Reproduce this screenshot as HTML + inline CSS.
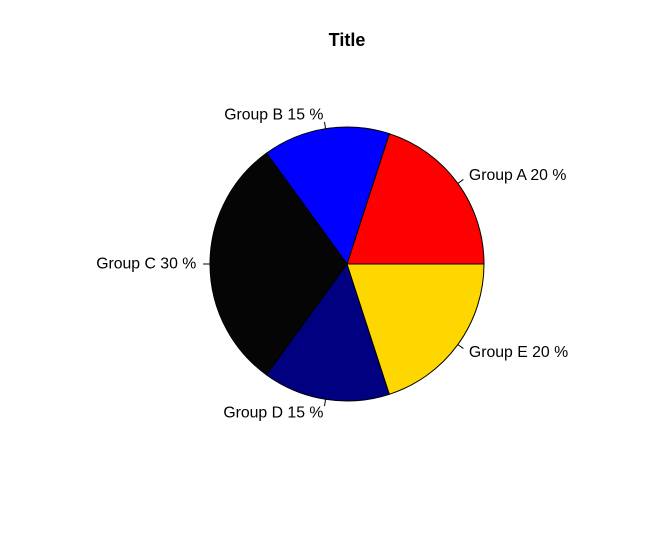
<!DOCTYPE html>
<html><head><meta charset="utf-8"><style>
html,body{margin:0;padding:0;background:#fff;}
svg{display:block;font-family:"Liberation Sans",sans-serif;}
</style></head><body>
<svg id="chart" width="656" height="547">
<rect width="656" height="547" fill="#fff"/>
<text x="347" y="46" text-anchor="middle" font-size="18" font-weight="bold">Title</text>
<g id="slices"></g>
</svg>
<script>
const categories = ["Group A","Group B","Group C","Group D","Group E"];
const values = [20,15,30,15,20];
const colors = ["#ff0000","#0000ff","#050505","#000080","#ffd700"];
const cx=347, cy=264, r=137;
const g=document.getElementById('slices');
const ns="http://www.w3.org/2000/svg";
const total=values.reduce((a,b)=>a+b,0);
let a0=0;
values.forEach((v,i)=>{
  const a1=a0+v/total*2*Math.PI;
  const x0=cx+r*Math.cos(a0), y0=cy-r*Math.sin(a0);
  const x1=cx+r*Math.cos(a1), y1=cy-r*Math.sin(a1);
  const large=(a1-a0)>Math.PI?1:0;
  const p=document.createElementNS(ns,'path');
  p.setAttribute('d',`M${cx},${cy} L${x0},${y0} A${r},${r} 0 ${large} 0 ${x1},${y1} Z`);
  p.setAttribute('fill',colors[i]);
  p.setAttribute('stroke','#000');
  p.setAttribute('stroke-width','1');
  
  
  g.appendChild(p);
  const m=(a0+a1)/2, c=Math.cos(m), s=Math.sin(m);
  const t=document.createElementNS(ns,'line');
  t.setAttribute('x1',cx+r*c); t.setAttribute('y1',cy-r*s);
  t.setAttribute('x2',cx+1.05*r*c); t.setAttribute('y2',cy-1.05*r*s);
  t.setAttribute('stroke','#000');
  
  
  g.appendChild(t);
  const tx=document.createElementNS(ns,'text');
  tx.setAttribute('x',cx+1.1*r*c);
  tx.setAttribute('y',cy-1.1*r*s+4.5);
  tx.setAttribute('font-size','15.8');
  tx.setAttribute('text-anchor',c>=0?'start':'end');
  tx.textContent=categories[i]+' '+v+' %';
  
  
  g.appendChild(tx);
  a0=a1;
});
</script>
</body></html>
